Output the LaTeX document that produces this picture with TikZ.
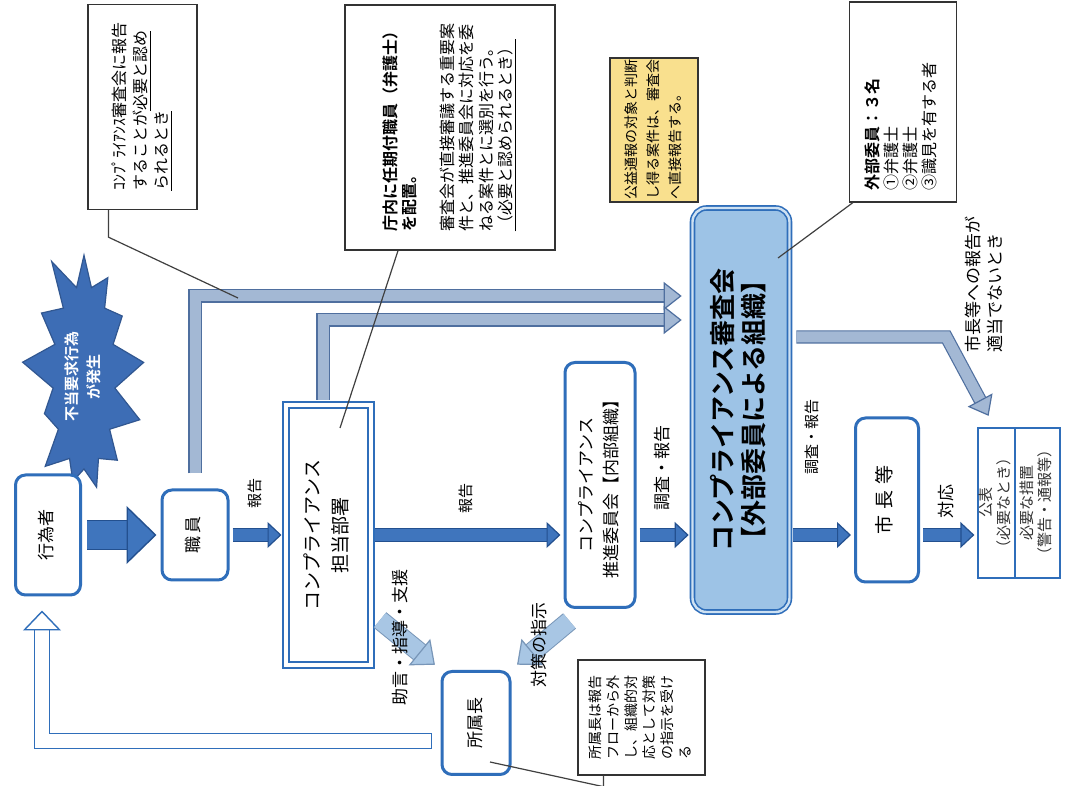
\documentclass[tikz,border=0pt]{standalone}
\usepackage{fontspec}
\setmainfont{Noto Sans CJK JP}[BoldFont={Noto Sans CJK JP Bold}]
\usepackage{graphicx}
\usetikzlibrary{arrows.meta}
\usetikzlibrary{shapes.symbols}
\definecolor{boxblue}{HTML}{2F6EBA}
\definecolor{arrowfill}{HTML}{3F75BD}
\definecolor{arrowdark}{HTML}{23508F}
\definecolor{burstblue}{HTML}{3D6DB5}
\definecolor{reviewfill}{HTML}{9DC3E6}
\definecolor{hatchfill}{HTML}{A3B8D4}
\definecolor{hatchdark}{HTML}{4F6F9F}
\definecolor{lightfill}{HTML}{A8C6E4}
\definecolor{lightdark}{HTML}{7896B8}
\definecolor{notefill}{HTML}{F9E08E}
\newcommand{\vtext}[2][@{}c@{}]{\rotatebox{90}{\begin{tabular}{#1}#2\end{tabular}}}
\tikzset{
  rbox/.style={draw=boxblue, line width=1.5pt, rounded corners=5pt, fill=white,
    inner sep=0pt, font=\fontsize{8.5}{12.5}\selectfont},
  note/.style={draw=black!80, line width=0.7pt, fill=white, inner sep=0pt},
  callout/.style={draw=black!75, line width=0.6pt},
  lbl/.style={inner sep=0pt, font=\fontsize{7.5}{9}\selectfont},
  % solid blue block arrows
  bigarrow/.style={draw=arrowfill, line width=14pt, shorten <=2.5pt, shorten >=2pt,
    preaction={draw=arrowdark, line width=15.4pt, -, shorten >=16.5pt},
    -{Triangle[length=15pt, width=29pt, line width=0.7pt, color=arrowdark, fill=arrowfill]}},
  flowarrow/.style={draw=arrowfill, line width=6pt, shorten <=1.5pt, shorten >=1.5pt,
    preaction={draw=arrowdark, line width=7pt, -, shorten >=8pt},
    -{Triangle[length=7pt, width=13pt, line width=0.6pt, color=arrowdark, fill=arrowfill]}},
  % hatched arrows
  hatcharrow/.style={draw=hatchfill, line width=5.5pt, shorten >=2pt,
    preaction={draw=hatchdark, line width=6.7pt, -, shorten >=10.5pt},
    -{Triangle[length=9pt, width=14pt, line width=0.6pt, color=hatchdark, fill=hatchfill]}},
  lightarrow/.style={draw=lightfill, line width=9pt, shorten >=1pt,
    preaction={draw=lightdark, line width=10pt, -, shorten >=10.5pt},
    -{Triangle[length=10pt, width=17pt, line width=0.6pt, color=lightdark, fill=lightfill]}},
  openarrow/.style={draw=white, line width=7pt, shorten >=3pt,
    preaction={draw=boxblue, line width=8.4pt, -, shorten >=12.5pt, shorten <=-0.7pt},
    -{Triangle[length=10pt, width=19pt, line width=0.7pt, color=boxblue, fill=white]}}
}
\begin{document}
\begin{tikzpicture}[x=0.5pt, y=-0.5pt,
  pubbox/.style={draw=boxblue, line width=0.6pt, fill=white, inner sep=0pt,
    text=black!80, font=\fontsize{7.5}{8.5}\selectfont},
  burst/.style={starburst, starburst points=13, starburst point height=20pt,
    random starburst=11, fill=burstblue, draw=burstblue!80!black, line width=0.6pt,
    minimum width=64pt, minimum height=132pt, inner sep=0pt, text=white,
    font=\bfseries\fontsize{7.5}{11}\selectfont}]
\fill[white] (0,0) rectangle (1073,786);
\useasboundingbox (0,0) rectangle (1073,786);
% notes
\node[note, minimum width=54.5pt, minimum height=102.5pt, font=\fontsize{8}{10.5}\selectfont]
  (noteA) at (142.5,107) {\vtext[@{}l@{}]{ｺﾝﾌﾟﾗｲｱﾝｽ審査会に報告\\することが\underline{必要と認め}\\\underline{られるとき}}};
\node[note, minimum width=105pt, minimum height=122.5pt, font=\fontsize{8}{9.5}\selectfont]
  (noteB) at (450,127.5) {\vtext[@{}l@{}]{\textbf{庁内に任期付職員（弁護士）}\\\textbf{を配置。}\\[9.5pt]
  審査会が直接審議する重要案\\件と、推進委員会に対応を委\\ねる案件とに選別を行う。\\\underline{（必要と認められるとき）}}};
\node[note, fill=notefill, minimum width=44pt, minimum height=72pt, font=\fontsize{7}{11}\selectfont]
  (noteC) at (654,130) {\vtext[@{}l@{}]{公益通報の対象と判断\\し得る案件は、審査会\\へ直接報告する。}};
\node[note, minimum width=53.5pt, minimum height=100pt, font=\fontsize{8}{9.3}\selectfont]
  (noteD) at (903,102) {\vtext[@{}l@{\hspace{25pt}}]{\textbf{外部委員：３名}\\①弁護士\\②弁護士\\③識見を有する者}};
\node[note, minimum width=63.5pt, minimum height=57.5pt, font=\fontsize{7}{9}\selectfont]
  (noteE) at (641.5,717.5) {\vtext[@{}l@{}]{所属長は報告\\フローから外\\し、組織的対\\応として対策\\の指示を受け\\る}};
% flow boxes
\node[burst] (burst) at (84,377) {\vtext{不当要求行為\\が発生}};
\node[rbox, minimum width=32.5pt, minimum height=60pt] (actor) at (48,535) {\vtext{行為者}};
\node[rbox, minimum width=33pt, minimum height=45pt] (staff) at (195,535) {\vtext{職\,員}};
\node[rbox, rounded corners=0pt, double=white, double distance=2pt, line width=1pt,
  minimum width=42.5pt, minimum height=130pt, font=\fontsize{9.5}{14}\selectfont]
  (dept) at (328,535) {\vtext{コンプライアンス\\担当部署}};
\node[rbox, minimum width=35pt, minimum height=122.5pt] (promo) at (600,485)
  {\vtext{コンプライアンス\\推進委員会【内部組織】}};
\node[rbox, fill=reviewfill, double=reviewfill!50!white, double distance=1.2pt, line width=0.8pt,
  rounded corners=7pt, minimum width=48.5pt, minimum height=202pt,
  font=\bfseries\fontsize{13}{15}\selectfont] (review) at (741,410)
  {\vtext{コンプライアンス審査会\\【外部委員による組織】}};
\node[rbox, minimum width=31.5pt, minimum height=82pt, font=\fontsize{9.5}{12}\selectfont]
  (mayor) at (887,500) {\vtext{市\kern3pt長\kern3pt等}};
\node[pubbox, minimum width=18.5pt, minimum height=75pt] (pubL) at (996.5,503) {\vtext{公表\\（必要なとき）}};
\node[pubbox, minimum width=22.5pt, minimum height=75pt] (pubR) at (1037.5,503) {\vtext{必要な措置\\（警告・通報等）}};
\node[rbox, minimum width=34pt, minimum height=51.5pt] (head) at (476,723) {\vtext{所属長}};
% main flow
\draw[bigarrow] (actor.east) -- (staff.west);
\draw[flowarrow] (staff.east) -- (dept.west)
  node[lbl, midway, above=10pt] (lblreportA) {\vtext{報告}};
\draw[flowarrow] (dept.east) -- (promo.west |- dept.east)
  node[lbl, midway, above=7.5pt] (lblreportB) {\vtext{報告}};
\draw[flowarrow] (promo.east |- dept.east) -- (review.west |- dept.east)
  node[lbl, midway, above=9pt, font=\fontsize{8.5}{10}\selectfont] (lblcheckA) {\vtext{調査・報告}};
\draw[flowarrow] (review.east |- dept.east) -- (mayor.west |- dept.east)
  node[lbl, midway, above=27pt, xshift=-4pt] (lblcheckB) {\vtext{調査・報告}};
\draw[flowarrow] (mayor.east |- dept.east) -- (pubL.west |- dept.east)
  node[lbl, midway, above=5pt, font=\fontsize{8.5}{10}\selectfont] (lblact) {\vtext{対応}};
% hatched arrows
\draw[hatcharrow] ([yshift=7.5pt]staff.north) |- ([yshift=57pt, xshift=-3pt]review.west);
\draw[hatcharrow] ([xshift=-2.5pt, yshift=2pt]dept.north) |- ([yshift=45pt, xshift=-3pt]review.west);
\draw[hatcharrow] ([yshift=36.5pt, xshift=3pt]review.east) -- ++(150,0) -- ([xshift=-3pt, yshift=4pt]pubL.north);
\node[lbl, font=\fontsize{8.5}{11}\selectfont] (lblnotfit) at (986,285)
  {\vtext[@{}l@{}]{市長等への報告が\\適当でないとき}};
% to and from the section head
\coordinate (advicestart) at (380,620);
\draw[lightarrow] (advicestart) -- ([shift={(-2pt,2pt)}]head.north west);
\draw[lightarrow] ([shift={(3pt,-6pt)}]promo.south west) -- ([shift={(2pt,2pt)}]head.north east);
\node[lbl, font=\fontsize{8.5}{10}\selectfont] (lbladvice) at (402,637) {\vtext{助言・指導・支援}};
\node[lbl, font=\fontsize{8.5}{10}\selectfont] (lblorder) at (541,645) {\vtext{対策の指示}};
\draw[openarrow] ([xshift=-5pt, yshift=-9pt]head.west) -| ([xshift=-3pt, yshift=-4pt]actor.south);
% callout lines
\coordinate (ptA) at (238,298);
\coordinate (ptB) at (340,428);
\coordinate (ptD) at (778,258);
\coordinate (ptE) at (490,762);
\draw[callout] ([xshift=-17pt]noteA.south) -- ++(0,27) -- (ptA);
\draw[callout] ([xshift=-26pt]noteB.south) -- (ptB);
\draw[callout] (ptD) -- ([xshift=2pt]noteD.south west);
\draw[callout] ([xshift=-19pt]noteE.south) -- ++(0,11) -- (ptE);
\end{tikzpicture}
\end{document}
